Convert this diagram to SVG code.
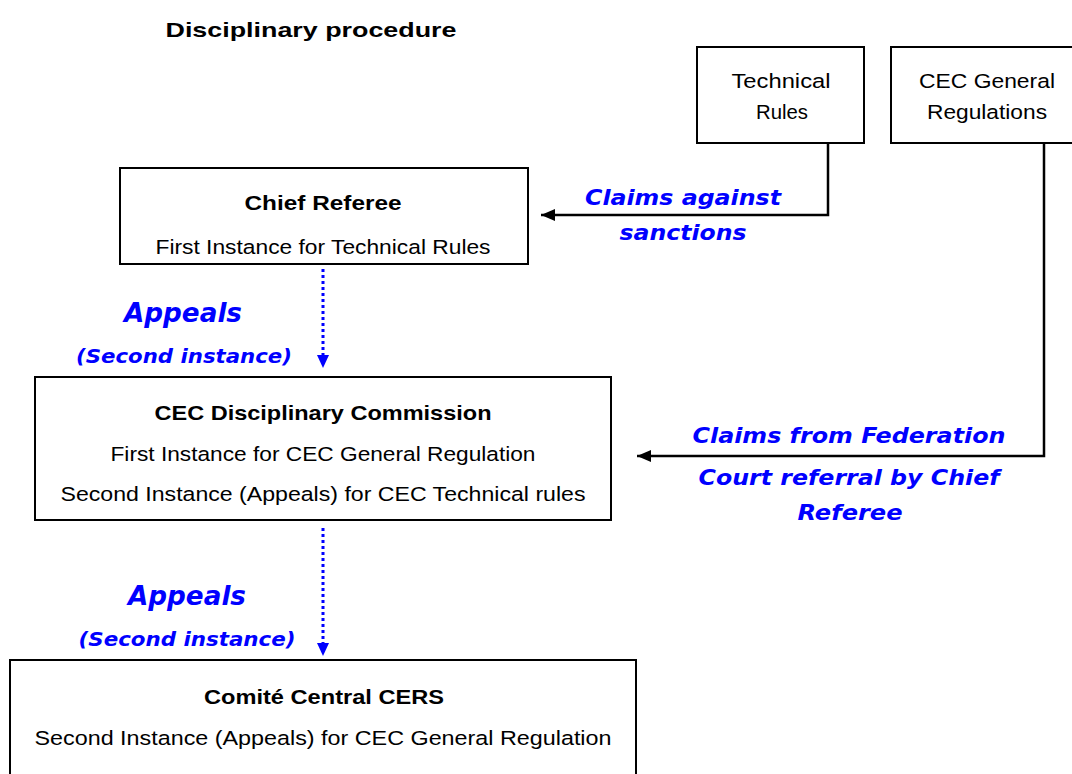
<svg xmlns="http://www.w3.org/2000/svg" width="1072" height="774" viewBox="0 0 1072 774">
<defs>
<style>
.box{fill:#fff;stroke:#000;stroke-width:2}
.t{font-family:"Liberation Sans","DejaVu Sans",sans-serif;font-size:20.5px;fill:#000;text-anchor:middle}
.b{font-weight:bold}
.bl{font-family:"DejaVu Sans","Verdana",sans-serif;font-weight:bold;font-style:italic;fill:#0000ff;text-anchor:middle}
.conn{fill:none;stroke:#000;stroke-width:2.5}
.dot{fill:none;stroke:#0000ff;stroke-width:3;stroke-dasharray:3 3}
</style>
<marker id="ab" markerWidth="14" markerHeight="12" refX="14" refY="6" orient="auto" markerUnits="userSpaceOnUse" viewBox="0 0 14 12"><path d="M0,0 L14,6 L0,12 z" fill="#000" transform="rotate(0)"/></marker>
</defs>
<rect width="1072" height="774" fill="#fff"/>
<text class="t b" x="311" y="37" font-size="23" textLength="291" lengthAdjust="spacingAndGlyphs">Disciplinary procedure</text>

<g id="technical-rules">
<rect class="box" x="697" y="47" width="167" height="96"/>
<text class="t" x="781" y="88" textLength="99" lengthAdjust="spacingAndGlyphs">Technical</text>
<text class="t" x="782" y="119" textLength="52" lengthAdjust="spacingAndGlyphs">Rules</text>
</g>
<g id="cec-general-regulations">
<rect class="box" x="891" y="47" width="190" height="96"/>
<text class="t" x="987" y="88" textLength="136" lengthAdjust="spacingAndGlyphs">CEC General</text>
<text class="t" x="987" y="119" textLength="120" lengthAdjust="spacingAndGlyphs">Regulations</text>
</g>
<g id="chief-referee">
<rect class="box" x="120" y="168" width="408" height="96"/>
<text class="t b" x="323" y="210" textLength="157" lengthAdjust="spacingAndGlyphs">Chief Referee</text>
<text class="t" x="323" y="254" textLength="335" lengthAdjust="spacingAndGlyphs">First Instance for Technical Rules</text>
</g>
<g id="cec-disciplinary-commission">
<rect class="box" x="35" y="377" width="576" height="143"/>
<text class="t b" x="323" y="420" textLength="337" lengthAdjust="spacingAndGlyphs">CEC Disciplinary Commission</text>
<text class="t" x="323" y="461" textLength="425" lengthAdjust="spacingAndGlyphs">First Instance for CEC General Regulation</text>
<text class="t" x="323" y="501" textLength="525" lengthAdjust="spacingAndGlyphs">Second Instance (Appeals) for CEC Technical rules</text>
</g>
<g id="comite-central-cers">
<rect class="box" x="10" y="660" width="626" height="130"/>
<text class="t b" x="324" y="704" textLength="240" lengthAdjust="spacingAndGlyphs">Comité Central CERS</text>
<text class="t" x="323" y="745" textLength="577" lengthAdjust="spacingAndGlyphs">Second Instance (Appeals) for CEC General Regulation</text>
</g>

<g id="connectors">
<polyline class="conn" points="828,143 828,215 541,215" marker-end="url(#ab)"/>
<polyline class="conn" points="1044,143 1044,456 637,456" marker-end="url(#ab)"/>
<line class="dot" x1="323" y1="269" x2="323" y2="358"/>
<path d="M317,355 L329,355 L323,368 z" fill="#0000ff"/>
<line class="dot" x1="323" y1="528" x2="323" y2="645"/>
<path d="M317,643 L329,643 L323,656 z" fill="#0000ff"/>
<text class="bl" x="683" y="205" font-size="22" textLength="196" lengthAdjust="spacingAndGlyphs">Claims against</text>
<text class="bl" x="683" y="240" font-size="22" textLength="127" lengthAdjust="spacingAndGlyphs">sanctions</text>
<text class="bl" x="183" y="322" font-size="26" textLength="118" lengthAdjust="spacingAndGlyphs">Appeals</text>
<text class="bl" x="184" y="363" font-size="19" textLength="216" lengthAdjust="spacingAndGlyphs">(Second instance)</text>
<text class="bl" x="849" y="443" font-size="22" textLength="313" lengthAdjust="spacingAndGlyphs">Claims from Federation</text>
<text class="bl" x="849" y="485" font-size="22" textLength="301" lengthAdjust="spacingAndGlyphs">Court referral by Chief</text>
<text class="bl" x="850" y="520" font-size="22" textLength="105" lengthAdjust="spacingAndGlyphs">Referee</text>
<text class="bl" x="187" y="605" font-size="26" textLength="118" lengthAdjust="spacingAndGlyphs">Appeals</text>
<text class="bl" x="187" y="646" font-size="19" textLength="217" lengthAdjust="spacingAndGlyphs">(Second instance)</text>
</g>
</svg>
